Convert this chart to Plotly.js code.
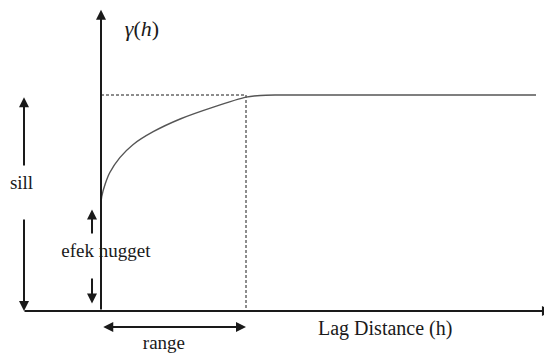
<!DOCTYPE html>
<html>
<head>
<meta charset="utf-8">
<script src="https://cdn.plot.ly/plotly-3.0.1.min.js"></script>
<style>
  html, body { margin: 0; padding: 0; background: #fff; }
  #chart { width: 544px; height: 356px; }
</style>
</head>
<body>
<div id="chart"></div>
<script>
// semivariogram model (lag units, gamma normalised to sill = 1)
const lag = [0, 0.05, 0.3, 0.6, 1.3, 2.2, 3.6, 5.5, 7.8, 10, 11, 12, 20, 30];
const gamma = [0.5, 0.53, 0.59, 0.64, 0.71, 0.77, 0.83, 0.89, 0.945, 0.99, 0.998, 1.0, 1.0, 1.0];

const nugget = 0.5;
const sill = 1.0;
const rangeLag = 10;

const labelText = ['Lag Distance (h)', 'sill', 'efek nugget', 'range', '<i>γ</i>(<i>h</i>)'];

const ink = '#1a1a1a';

// axis scaling: 14.5 px per lag unit, 216 px per sill unit
const xRange = [-101 / 14.5, 443 / 14.5];
const yRange = [-45 / 216, 311 / 216];

const curve = {
  type: 'scatter',
  mode: 'lines',
  x: lag,
  y: gamma,
  line: { color: '#555', width: 1.4, shape: 'spline', smoothing: 0.6 },
  hoverinfo: 'skip'
};

const guide = {
  type: 'scatter',
  mode: 'lines',
  x: [0, rangeLag, rangeLag],
  y: [sill, sill, 0],
  line: { color: ink, width: 1, dash: '3px,2px' },
  hoverinfo: 'skip'
};

// text labels drawn as a text trace
const textLayer = {
  type: 'scatter',
  mode: 'text',
  x: [19.6, -5.48, 0.34, 4.34, 2.83],
  y: [-0.088, 0.588, 0.273, -0.156, 1.30],
  text: labelText,
  textposition: 'middle center',
  textfont: { family: 'Liberation Serif', size: [20, 19, 19, 19, 22], color: ink },
  cliponaxis: false,
  hoverinfo: 'skip'
};

function arrow(x0, y0, x1, y1, extra) {
  return Object.assign({
    x: x1, y: y1, ax: x0, ay: y0,
    xref: 'x', yref: 'y', axref: 'x', ayref: 'y',
    showarrow: true, arrowhead: 2, arrowsize: 1, arrowwidth: 2,
    arrowcolor: ink, text: ''
  }, extra || {});
}

const sillX = -5.31;
const nugX = -0.62;

const annotations = [
  // axes
  arrow(0, 0, 0, 1.395),
  arrow(-5.38, 0, 31.1, 0),
  // sill
  arrow(sillX, 0.667, sillX, sill * 0.99),
  arrow(sillX, 0.43, sillX, 0),
  // nugget
  arrow(nugX, 0.352, nugX, nugget * 0.94),
  arrow(nugX, 0.157, nugX, 0.035),
  // range
  arrow(0.05, -0.074, rangeLag, -0.074, { arrowside: 'end+start' })
];

const layout = {
  width: 544,
  height: 356,
  margin: { l: 0, r: 0, t: 0, b: 0 },
  font: { family: 'Liberation Serif', color: ink },
  showlegend: false,
  xaxis: { range: xRange, visible: false },
  yaxis: { range: yRange, visible: false },
  annotations: annotations
};

Plotly.newPlot('chart', [guide, curve, textLayer], layout, { staticPlot: true });
</script>
</body>
</html>
